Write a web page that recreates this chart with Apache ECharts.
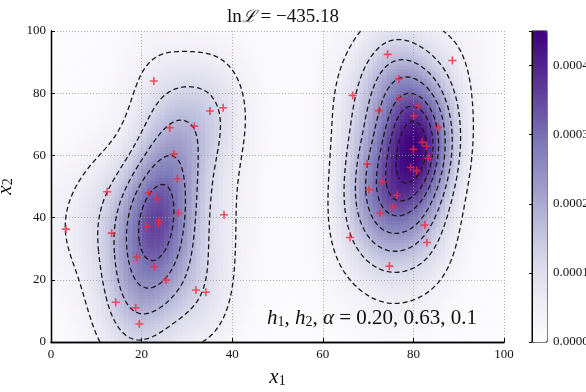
<!DOCTYPE html>
<html>
<head>
<meta charset="utf-8">
<script src="https://cdn.jsdelivr.net/npm/echarts@6/dist/echarts.min.js"></script>
<style>
  html, body { margin: 0; padding: 0; background: #fff; }
  #chart { width: 586px; height: 392px; }
</style>
</head>
<body>
<div id="chart"></div>
<script>
// sample points (x1, x2)
var ptsX1 = [22.7, 35.1, 38.0, 26.2, 31.6, 27.1, 27.9, 12.4, 21.6, 23.4, 28.1, 38.2, 23.8, 23.7, 21.2, 3.3, 13.4, 18.9, 22.8, 25.4, 32.0, 34.2, 14.3, 18.7, 19.5,
             74.3, 88.6, 76.8, 66.6, 76.9, 72.4, 81.0, 80.1, 85.4, 81.9, 82.9, 80.0, 83.3, 69.8, 79.4, 80.7, 73.2, 70.2, 76.4, 75.5, 72.6, 82.5, 83.0, 66.0, 74.7];
var ptsX2 = [83.9, 74.3, 75.3, 68.9, 69.4, 60.4, 52.5, 48.3, 48.0, 46.0, 41.4, 40.9, 39.0, 38.0, 37.2, 36.3, 35.0, 27.3, 24.2, 19.9, 16.7, 16.0, 12.8, 11.0, 5.8,
             92.5, 90.5, 84.6, 79.3, 78.3, 74.4, 75.9, 72.7, 69.0, 64.2, 63.0, 62.0, 59.1, 57.2, 56.1, 55.1, 51.5, 49.0, 47.2, 43.5, 41.4, 37.6, 32.0, 33.6, 24.4];

var cbarMax = 0.00045;
var contourLevels = [0.00005, 0.000115, 0.00018, 0.000245, 0.00031, 0.00036, 0.00041];
var titleText = '\u2212435.18';
var h1 = 0.20, h2 = 0.63, alpha = 0.1;

var purples = ['#fcfbfd', '#efedf5', '#dadaeb', '#bcbddc', '#9e9ac8', '#807dba', '#6a51a3', '#54278f', '#3f007d'];

// bandwidths scaled by the spread of each coordinate
function sd(a) {
  var m = a.reduce(function (s, v) { return s + v; }, 0) / a.length;
  return Math.sqrt(a.reduce(function (s, v) { return s + (v - m) * (v - m); }, 0) / a.length);
}
var bwX = h1 * sd(ptsX1), bwY = h2 * sd(ptsX2);
var N = ptsX1.length;
var lam = ptsX1.map(function () { return 1; });

function dens(x, y) {
  var s = 0;
  for (var k = 0; k < N; k++) {
    var bx = bwX * lam[k], by = bwY * lam[k];
    var dx = (x - ptsX1[k]) / bx, dy = (y - ptsX2[k]) / by;
    s += Math.exp(-0.5 * (dx * dx + dy * dy)) / (bx * by);
  }
  return s / (2 * Math.PI * N);
}
// adaptive widths from a pilot estimate
var pilot = ptsX1.map(function (v, k) { return dens(v, ptsX2[k]); });
var gmean = Math.exp(pilot.reduce(function (s, v) { return s + Math.log(v); }, 0) / N);
lam = pilot.map(function (f) { return Math.pow(f / gmean, -alpha); });

// heatmap cells 100x100
var cells = [];
for (var i = 0; i < 100; i++) {
  for (var j = 0; j < 100; j++) cells.push([i, j, dens(i + 0.5, j + 0.5)]);
}

// contour grid
var step = 0.5, n = 201;
var g = [];
for (var i = 0; i < n; i++) {
  g.push([]);
  for (var j = 0; j < n; j++) g[i].push(dens(i * step, j * step));
}

var caseTable = {
  1: [[0, 3]], 2: [[0, 1]], 3: [[3, 1]], 4: [[1, 2]], 5: [[0, 3], [1, 2]],
  6: [[0, 2]], 7: [[3, 2]], 8: [[2, 3]], 9: [[0, 2]], 10: [[0, 1], [2, 3]],
  11: [[1, 2]], 12: [[3, 1]], 13: [[0, 1]], 14: [[0, 3]]
};

function contour(level) {
  var segs = [];
  for (var i = 0; i < n - 1; i++) {
    for (var j = 0; j < n - 1; j++) {
      var v00 = g[i][j], v10 = g[i + 1][j], v11 = g[i + 1][j + 1], v01 = g[i][j + 1];
      var c = (v00 > level ? 1 : 0) | (v10 > level ? 2 : 0) | (v11 > level ? 4 : 0) | (v01 > level ? 8 : 0);
      if (!caseTable[c]) continue;
      var edgePt = function (e) {
        var t;
        if (e === 0) { t = (level - v00) / (v10 - v00); return { k: 'h' + i + ',' + j, p: [(i + t) * step, j * step] }; }
        if (e === 1) { t = (level - v10) / (v11 - v10); return { k: 'v' + (i + 1) + ',' + j, p: [(i + 1) * step, (j + t) * step] }; }
        if (e === 2) { t = (level - v01) / (v11 - v01); return { k: 'h' + i + ',' + (j + 1), p: [(i + t) * step, (j + 1) * step] }; }
        t = (level - v00) / (v01 - v00); return { k: 'v' + i + ',' + j, p: [i * step, (j + t) * step] };
      };
      caseTable[c].forEach(function (pr) {
        var a = edgePt(pr[0]), b = edgePt(pr[1]);
        segs.push({ a: a.k, b: b.k, pa: a.p, pb: b.p });
      });
    }
  }
  // join segments into polylines
  var map = {};
  segs.forEach(function (s, idx) {
    (map[s.a] = map[s.a] || []).push(idx);
    (map[s.b] = map[s.b] || []).push(idx);
  });
  var used = [];
  var lines = [];
  function walk(idx, startKey) {
    var s = segs[idx]; used[idx] = true;
    var pts, cur;
    if (s.a === startKey) { pts = [s.pa, s.pb]; cur = s.b; } else { pts = [s.pb, s.pa]; cur = s.a; }
    while (true) {
      var nxt = (map[cur] || []).filter(function (q) { return !used[q]; })[0];
      if (nxt === undefined) break;
      used[nxt] = true;
      var t = segs[nxt];
      if (t.a === cur) { pts.push(t.pb); cur = t.b; } else { pts.push(t.pa); cur = t.a; }
    }
    lines.push(pts);
  }
  segs.forEach(function (s, idx) {
    if (used[idx]) return;
    if (map[s.a].length === 1) walk(idx, s.a);
    else if (map[s.b].length === 1) walk(idx, s.b);
  });
  segs.forEach(function (s, idx) { if (!used[idx]) walk(idx, s.a); });
  return lines;
}

var serif = 'Liberation Serif';
var series = [{
  type: 'custom',
  xAxisIndex: 0, yAxisIndex: 0,
  z: 1,
  silent: true,
  data: cells,
  encode: { x: 0, y: 1 },
  renderItem: function (params, api) {
    var x = api.value(0), y = api.value(1);
    var p0 = api.coord([x, y + 1]);
    var p1 = api.coord([x + 1, y]);
    return {
      type: 'rect',
      shape: { x: p0[0], y: p0[1], width: p1[0] - p0[0] + 0.6, height: p1[1] - p0[1] + 0.6 },
      style: { fill: api.visual('color') }
    };
  }
}];

contourLevels.forEach(function (lv) {
  contour(lv).forEach(function (pts) {
    series.push({
      type: 'line', xAxisIndex: 0, yAxisIndex: 0, z: 4,
      data: pts, showSymbol: false, silent: true, animation: false,
      lineStyle: { color: '#1a1a1a', width: 1.3, type: [5, 3] }
    });
  });
});

series.push({
  type: 'scatter', xAxisIndex: 0, yAxisIndex: 0, z: 5,
  data: ptsX1.map(function (v, k) { return [v, ptsX2[k]]; }),
  symbol: 'path://M4,0H6V4H10V6H6V10H4V6H0V4H4Z',
  symbolSize: 8,
  itemStyle: { color: '#f5283c' },
  silent: true
});

var labelStyle = { fontFamily: serif, fontSize: 13, color: '#111' };
var nameRich = {
  i: { fontFamily: serif, fontStyle: 'italic', fontSize: 21, color: '#111', verticalAlign: 'bottom', lineHeight: 22 },
  s: { fontFamily: serif, fontSize: 14, color: '#111', verticalAlign: 'bottom', lineHeight: 18 }
};
var chart = echarts.init(document.getElementById('chart'));
chart.setOption({
  animation: false,
  backgroundColor: '#fff',
  title: {
    text: '{r|ln}{c|\u2112}{r| = ' + titleText + '}',
    left: 278, top: 3, textAlign: 'center',
    textStyle: { fontWeight: 'normal', rich: {
      r: { fontFamily: serif, fontSize: 19, color: '#111', fontWeight: 'normal' },
      c: { fontFamily: 'DejaVu Serif', fontSize: 17, color: '#111', fontStyle: 'italic', fontWeight: 'normal' }
    } }
  },
  grid: [
    { left: 51, top: 31, width: 453, height: 311, outerBoundsMode: 'none', containLabel: false },
    { left: 532, top: 31, width: 15, height: 311, outerBoundsMode: 'none', containLabel: false,
      show: true, borderColor: '#000', borderWidth: 1, backgroundColor: 'transparent' }
  ],
  visualMap: {
    type: 'continuous', seriesIndex: 0, dimension: 2,
    min: 0, max: cbarMax, calculable: false, show: true,
    left: 532, top: 31, itemWidth: 15, itemHeight: 311, padding: 0,
    inRange: { color: purples }
  },
  xAxis: [
    { type: 'value', gridIndex: 0, min: 0, max: 100, interval: 20, z: 3,
      axisLine: { lineStyle: { color: '#000', width: 1.3 } },
      axisTick: { inside: true, length: 4, lineStyle: { color: '#000' } },
      axisLabel: Object.assign({ margin: 6 }, labelStyle),
      splitLine: { show: true, lineStyle: { color: '#999', width: 0.8, type: [1, 2] } },
      name: '{i|x}{s|1}', nameLocation: 'middle', nameGap: 24, nameTextStyle: { rich: nameRich }
    },
    { type: 'value', gridIndex: 0, min: 0, max: 100, position: 'top', z: 3,
      axisLine: { lineStyle: { color: '#000', width: 1.3 } },
      axisTick: { show: false }, axisLabel: { show: false }, splitLine: { show: false } },
    { type: 'value', gridIndex: 1, min: 0, max: 1, show: false }
  ],
  yAxis: [
    { type: 'value', gridIndex: 0, min: 0, max: 100, interval: 20, z: 3,
      axisLine: { lineStyle: { color: '#000', width: 1.3 } },
      axisTick: { inside: true, length: 4, lineStyle: { color: '#000' } },
      axisLabel: Object.assign({ margin: 5 }, labelStyle),
      splitLine: { show: true, lineStyle: { color: '#999', width: 0.8, type: [1, 2] } },
      name: '{i|x}{s|2}', nameLocation: 'middle', nameGap: 29, nameTextStyle: { rich: nameRich }
    },
    { type: 'value', gridIndex: 0, min: 0, max: 100, position: 'right', z: 3,
      axisLine: { lineStyle: { color: '#000', width: 1.3 } },
      axisTick: { show: false }, axisLabel: { show: false }, splitLine: { show: false } },
    { type: 'value', gridIndex: 1, min: 0, max: cbarMax, interval: 0.0001, position: 'right', z: 5,
      axisLine: { show: true, lineStyle: { color: '#000', width: 1 } },
      axisTick: { show: true, inside: true, length: 3, lineStyle: { color: '#000' } },
      axisLabel: Object.assign({ margin: 6, formatter: function (v) { return v < 0.00044 ? v.toFixed(4) : ''; } }, labelStyle),
      splitLine: { show: false } }
  ],
  graphic: [{
    type: 'text', left: 267, top: 308, z: 10,
    style: {
      text: '{i|h}{s|1}{r|, }{i|h}{s|2}{r|, }{i|\u03b1}{r| = ' + h1.toFixed(2) + ', ' + h2.toFixed(2) + ', ' + alpha + '}',
      rich: {
        i: { fontFamily: serif, fontStyle: 'italic', fontSize: 21, fill: '#111', verticalAlign: 'bottom', lineHeight: 22 },
        r: { fontFamily: serif, fontSize: 21, fill: '#111', verticalAlign: 'bottom', lineHeight: 22 },
        s: { fontFamily: serif, fontSize: 14, fill: '#111', verticalAlign: 'bottom', lineHeight: 17 }
      }
    }
  }],
  series: series
});
</script>
</body>
</html>
